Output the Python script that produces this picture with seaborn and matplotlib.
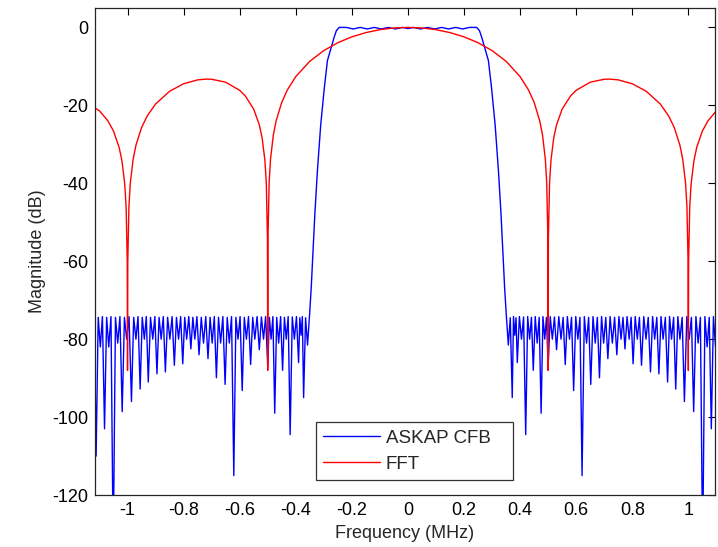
import numpy as np
import pandas as pd
import matplotlib
matplotlib.use("Agg")
import matplotlib.pyplot as plt
import seaborn as sns

# ---- data (positive-frequency half; spectrum is symmetric) ----
# passband + transition of the ASKAP CFB channel
cfb_pass_freq = [0.000, 0.020, 0.045, 0.070, 0.095, 0.120, 0.145, 0.170, 0.195, 0.220, 0.245,
                 0.255, 0.263, 0.275, 0.287, 0.298, 0.311, 0.323, 0.332, 0.339, 0.345, 0.351]
cfb_pass_db = [-0.3, 0.0, -0.4, 0.0, -0.4, 0.0, -0.4, 0.0, -0.4, 0.0, 0.0,
               -0.8, -2.5, -5.5, -8.5, -15.4, -25.0, -37.0, -48.0, -58.0, -67.0, -74.0]
# stopband ripple: dips
cfb_dip_freq = [0.358, 0.372, 0.381, 0.390, 0.405, 0.420, 0.434, 0.447, 0.461, 0.475,
                0.488, 0.500, 0.515, 0.530, 0.546, 0.561, 0.576, 0.591, 0.606, 0.621,
                0.637, 0.652, 0.668, 0.683, 0.698, 0.713, 0.729, 0.745, 0.760, 0.774,
                0.789, 0.803, 0.818, 0.833, 0.849, 0.865, 0.880, 0.895, 0.910, 0.926,
                0.940, 0.955, 0.970, 0.986, 1.003, 1.019, 1.035, 1.051, 1.067, 1.082,
                1.097, 1.112, 1.125]
cfb_dip_db = [-81.5, -95.0, -79.0, -86.0, -80.0, -104.5, -80.0, -88.0, -81.0, -99.0,
              -80.0, -87.0, -80.0, -82.7, -80.0, -86.5, -80.0, -93.2, -80.0, -115.0,
              -81.0, -91.6, -81.0, -89.9, -81.0, -85.0, -81.0, -84.0, -80.0, -82.5,
              -80.0, -86.3, -80.0, -86.7, -80.0, -88.4, -80.0, -88.9, -80.0, -91.0,
              -80.0, -92.8, -80.0, -96.0, -80.0, -98.6, -81.0, -135.0, -82.0, -103.0,
              -82.0, -110.0, -80.0]
# stopband ripple: peaks
cfb_peak_freq = [0.365, 0.3765, 0.3855, 0.3975, 0.4125, 0.427, 0.4405, 0.454, 0.468, 0.4815,
                 0.494, 0.5075, 0.5225, 0.538, 0.5535, 0.5685, 0.5835, 0.5985, 0.6135, 0.629,
                 0.6445, 0.660, 0.6755, 0.6905, 0.7055, 0.721, 0.737, 0.7525, 0.767, 0.7815,
                 0.796, 0.8105, 0.8255, 0.841, 0.857, 0.8725, 0.8875, 0.9025, 0.918, 0.933,
                 0.9475, 0.9625, 0.978, 0.9945, 1.011, 1.027, 1.043, 1.059, 1.0745, 1.0895,
                 1.1045, 1.1185]
cfb_peak_db = [-74.5, -74.2, -74.5, -74.2, -74.3, -74.2, -74.4, -74.2, -74.4, -74.2,
               -74.4, -74.2, -74.3, -74.2, -74.4, -74.2, -74.4, -74.2, -74.4, -74.2,
               -74.4, -74.2, -74.4, -74.2, -74.4, -74.2, -74.4, -74.2, -74.4, -74.2,
               -74.4, -74.2, -74.4, -74.2, -74.4, -74.2, -74.4, -74.2, -74.4, -74.2,
               -74.4, -74.2, -74.4, -74.2, -74.4, -74.2, -74.4, -74.2, -74.4, -74.2,
               -74.4, -74.2]

fft_freq = [0.000, 0.050, 0.100, 0.150, 0.200, 0.250, 0.300, 0.350, 0.400, 0.430, 0.450,
            0.470, 0.480, 0.490, 0.495, 0.499, 0.500, 0.501, 0.505, 0.510, 0.520, 0.530,
            0.550, 0.580, 0.600, 0.650, 0.700, 0.720, 0.750, 0.800, 0.850, 0.900, 0.930,
            0.950, 0.970, 0.980, 0.990, 0.995, 0.999, 1.000, 1.001, 1.005, 1.010, 1.020,
            1.030, 1.050, 1.070, 1.100, 1.125]
fft_db = [0.0, -0.14, -0.58, -1.33, -2.42, -3.92, -5.94, -8.69, -12.62, -16.05, -19.23,
          -23.95, -27.63, -33.81, -39.91, -53.96, -88.0, -54.0, -40.09, -34.16, -28.32, -25.0,
          -20.97, -17.58, -16.14, -14.06, -13.30, -13.27, -13.46, -14.46, -16.39, -19.66, -22.75,
          -25.72, -30.24, -33.83, -39.92, -45.98, -59.99, -88.0, -60.0, -46.07, -40.09, -34.17,
          -30.77, -26.59, -23.97, -21.41, -20.24]

x_ticks = [-1, -0.8, -0.6, -0.4, -0.2, 0, 0.2, 0.4, 0.6, 0.8, 1]
x_tick_labels = ["-1", "-0.8", "-0.6", "-0.4", "-0.2", "0", "0.2", "0.4", "0.6", "0.8", "1"]
y_ticks = [-120, -100, -80, -60, -40, -20, 0]
y_tick_labels = ["-120", "-100", "-80", "-60", "-40", "-20", "0"]


def mirror(freq, vals):
    f = np.asarray(freq, dtype=float)
    v = np.asarray(vals, dtype=float)
    return np.concatenate([-f[:0:-1], f]), np.concatenate([v[:0:-1], v])


# assemble the positive half of the CFB response in frequency order
pos_f = np.concatenate([cfb_pass_freq, cfb_dip_freq, cfb_peak_freq])
pos_v = np.concatenate([cfb_pass_db, cfb_dip_db, cfb_peak_db])
order = np.argsort(pos_f)
cf, cv = mirror(pos_f[order], pos_v[order])
ff, fv = mirror(fft_freq, fft_db)
df_cfb = pd.DataFrame({"Frequency": cf, "Magnitude": cv})
df_fft = pd.DataFrame({"Frequency": ff, "Magnitude": fv})

sns.set_style("white")
plt.rcParams["font.family"] = ["Liberation Sans", "DejaVu Sans"]
plt.rcParams["axes.unicode_minus"] = False

fig = plt.figure(figsize=(7.18, 5.47), dpi=100)
ax = fig.add_axes([0.1323, 0.095, 0.8631, 0.8905])

sns.lineplot(data=df_cfb, x="Frequency", y="Magnitude", ax=ax, color=(0, 0, 1),
             lw=1.0, estimator=None, sort=False, label="ASKAP CFB")
sns.lineplot(data=df_fft, x="Frequency", y="Magnitude", ax=ax, color=(1, 0, 0),
             lw=1.0, estimator=None, sort=False, label="FFT")

ax.set_xlim(-1.116, 1.094)
ax.set_ylim(-120, 5)
ax.set_xticks(x_ticks)
ax.set_xticklabels(x_tick_labels)
ax.set_yticks(y_ticks)
ax.set_yticklabels(y_tick_labels)
ax.set_xlabel("Frequency (MHz)", fontsize=13)
ax.set_ylabel("Magnitude (dB)", fontsize=13)
ax.tick_params(direction="in", length=5, width=0.8, top=True, right=True,
               labelsize=13, colors="black", pad=5)
for s in ax.spines.values():
    s.set_color("#262626")
    s.set_linewidth(0.9)

leg = ax.legend(loc="lower left", bbox_to_anchor=(0.3566, 0.0308, 0.3179, 0.1),
                mode="expand", borderaxespad=0, fontsize=13.5,
                frameon=True, fancybox=False, handlelength=3.0, handletextpad=0.32,
                borderpad=0.4, labelspacing=0.46)
leg.get_frame().set_edgecolor("black")
leg.get_frame().set_linewidth(0.9)

fig.savefig("out.png", dpi=100)
